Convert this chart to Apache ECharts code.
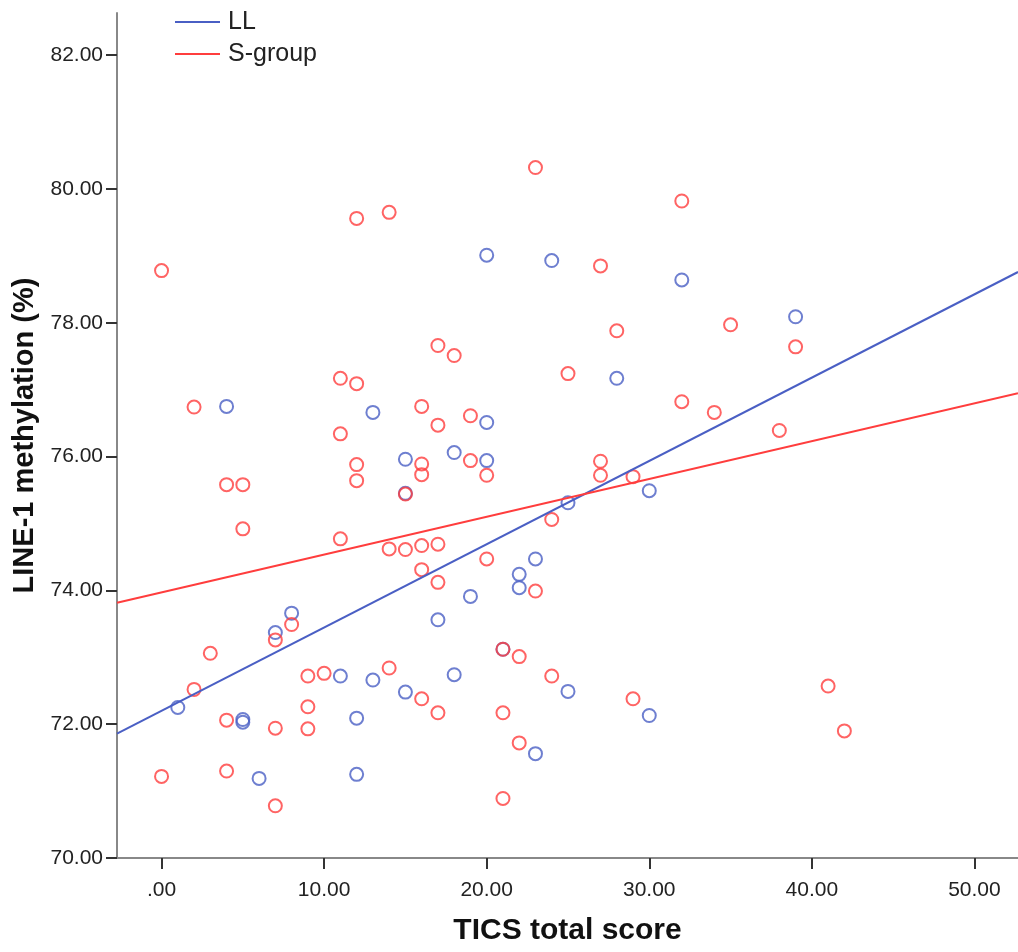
<!DOCTYPE html>
<html>
<head>
<meta charset="utf-8">
<script src="https://cdn.jsdelivr.net/npm/echarts@6/dist/echarts.min.js"></script>
<style>
  html, body { margin: 0; padding: 0; background: #fff; }
  #chart { width: 1018px; height: 952px; }
</style>
</head>
<body>
<div id="chart"></div>
<script>
// TICS total score vs LINE-1 methylation, two groups with linear fits
const xTicks = [0, 10, 20, 30, 40, 50];
const yTicks = [70, 72, 74, 76, 78, 80, 82];
const xRange = [-2.74, 52.68];
const yRange = [70, 82.63];

// LL group: [TICS score, methylation %]
const llPoints = [
  [1, 72.25], [4, 76.75], [5, 72.07], [5, 72.03], [6, 71.19], [7, 73.37],
  [8, 73.66], [11, 72.72], [12, 72.09], [12, 71.25], [13, 76.66], [13, 72.66],
  [15, 75.96], [15, 75.45], [15, 72.48], [17, 73.56], [18, 76.06], [18, 72.74],
  [19, 73.91], [20, 79.01], [20, 76.51], [20, 75.94], [21, 73.12], [22, 74.24],
  [22, 74.04], [23, 74.47], [23, 71.56], [24, 78.93], [25, 75.31], [25, 72.49],
  [28, 77.17], [30, 75.49], [30, 72.13], [32, 78.64], [39, 78.09]
];

// S-group: [TICS score, methylation %]
const sPoints = [
  [0, 78.78], [0, 71.22], [2, 76.74], [2, 72.52], [3, 73.06], [4, 75.58],
  [4, 72.06], [4, 71.30], [5, 75.58], [5, 74.92], [7, 73.26], [7, 71.94],
  [7, 70.78], [8, 73.49], [9, 72.72], [9, 72.26], [9, 71.93], [10, 72.76],
  [11, 77.17], [11, 76.34], [11, 74.77], [12, 79.56], [12, 77.09], [12, 75.88],
  [12, 75.64], [14, 79.65], [14, 74.62], [14, 72.84], [15, 75.44], [15, 74.61],
  [16, 76.75], [16, 75.89], [16, 75.73], [16, 74.67], [16, 74.31], [16, 72.38],
  [17, 77.66], [17, 76.47], [17, 74.69], [17, 74.12], [17, 72.17], [18, 77.51],
  [19, 76.61], [19, 75.94], [20, 75.72], [20, 74.47], [21, 73.12], [21, 72.17],
  [21, 70.89], [22, 73.01], [22, 71.72], [23, 80.32], [23, 73.99], [24, 75.06],
  [24, 72.72], [25, 77.24], [27, 78.85], [27, 75.93], [27, 75.72], [28, 77.88],
  [29, 75.70], [29, 72.38], [32, 79.82], [32, 76.82], [34, 76.66], [35, 77.97],
  [38, 76.39], [39, 77.64], [41, 72.57], [42, 71.90]
];

// Linear fit coefficients: [intercept, slope]
const llFit = [72.20, 0.1245];
const sFit = [73.97, 0.0565];

const BLUE = '#4a5fc4';
const RED = '#ff3d3d';
const FONT = '"Liberation Sans", Arial, sans-serif';

function fitLine(fit) {
  return xRange.map(x => [x, fit[0] + fit[1] * x]);
}

function scatter(name, data, color) {
  return {
    name: name,
    type: 'scatter',
    data: data,
    symbol: 'circle',
    symbolSize: 13,
    itemStyle: { color: 'rgba(0,0,0,0)', borderColor: color, borderWidth: 2 },
    z: 2
  };
}

function line(name, fit, color) {
  return {
    name: name,
    type: 'line',
    data: fitLine(fit),
    color: color,
    showSymbol: false,
    symbol: 'none',
    lineStyle: { color: color, width: 2 },
    itemStyle: { color: color },
    z: 3
  };
}

const chart = echarts.init(document.getElementById('chart'), null, { renderer: 'canvas' });

chart.setOption({
  animation: false,
  backgroundColor: '#ffffff',
  grid: { left: 117, right: 0, top: 13, bottom: 94, containLabel: false },
  legend: {
    data: ['LL', 'S-group'],
    orient: 'vertical',
    left: 170,
    top: 3,
    itemWidth: 45,
    itemHeight: 2,
    itemGap: 4,
    icon: 'path://M0,0 L45,0 L45,2 L0,2 Z',
    textStyle: { fontFamily: FONT, fontSize: 25, color: '#222', lineHeight: 28, padding: [0, 0, 0, 3] },
    selectedMode: false
  },
  xAxis: {
    type: 'value',
    min: xRange[0],
    max: xRange[1],
    name: 'TICS total score',
    nameLocation: 'middle',
    nameGap: 58,
    nameTextStyle: { fontFamily: FONT, fontSize: 30, fontWeight: 'bold', color: '#111' },
    splitLine: { show: false },
    axisLine: { show: true, onZero: false, lineStyle: { color: '#888', width: 2 } },
    axisTick: { show: true, customValues: xTicks, length: 11, lineStyle: { color: '#333', width: 2 } },
    axisLabel: {
      customValues: xTicks,
      margin: 22,
      fontFamily: FONT,
      fontSize: 21,
      color: '#222',
      formatter: v => (v === 0 ? '.00' : v.toFixed(2))
    }
  },
  yAxis: {
    type: 'value',
    min: yRange[0],
    max: yRange[1],
    name: 'LINE-1 methylation (%)',
    nameLocation: 'middle',
    nameGap: 74,
    nameTextStyle: { fontFamily: FONT, fontSize: 29, fontWeight: 'bold', color: '#111' },
    splitLine: { show: false },
    axisLine: { show: true, onZero: false, lineStyle: { color: '#888', width: 2 } },
    axisTick: { show: true, customValues: yTicks, length: 11, lineStyle: { color: '#333', width: 2 } },
    axisLabel: {
      customValues: yTicks,
      margin: 14,
      fontFamily: FONT,
      fontSize: 21,
      color: '#222',
      formatter: v => v.toFixed(2)
    }
  },
  series: [
    scatter('LL points', llPoints, BLUE),
    scatter('S-group points', sPoints, RED),
    line('LL', llFit, BLUE),
    line('S-group', sFit, RED)
  ]
});
</script>
</body>
</html>
